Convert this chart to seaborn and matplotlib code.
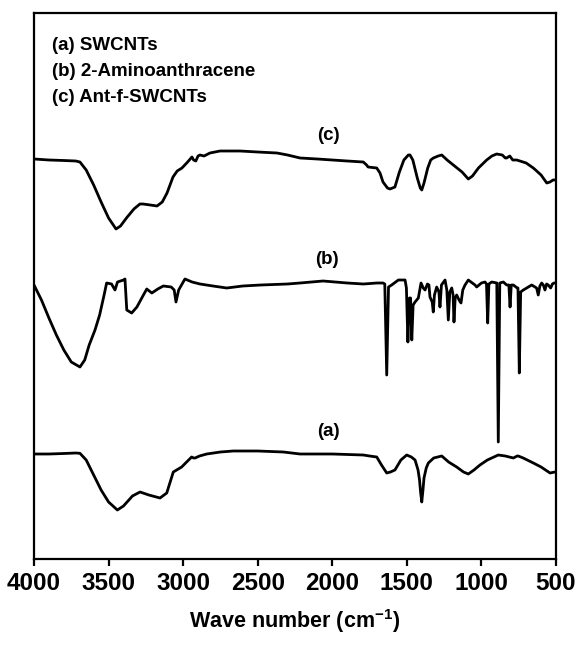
import matplotlib
matplotlib.use("Agg")
import matplotlib.pyplot as plt
import seaborn as sns
import pandas as pd

sns.set_theme(style="white")
plt.rcParams['font.family'] = ['Liberation Sans', 'DejaVu Sans']
plt.rcParams['font.weight'] = 'bold'
plt.rcParams['text.color'] = 'black'
plt.rcParams['xtick.color'] = 'black'
plt.rcParams['axes.labelcolor'] = 'black'
plt.rcParams['mathtext.fontset'] = 'custom'
plt.rcParams['mathtext.bf'] = 'Liberation Sans:bold'
plt.rcParams['mathtext.rm'] = 'Liberation Sans:bold'

# ---- data: wavenumber (cm-1) and offset transmittance (a.u.) ----
wn_c = [4000, 3900, 3800, 3720, 3692, 3650, 3600, 3550, 3500, 3450, 3420, 3380, 3330, 3290, 3269,
        3220, 3175, 3140, 3108, 3068, 3040, 3008, 2970, 2941, 2930, 2915, 2900, 2887, 2860, 2820,
        2753, 2619, 2500, 2371, 2300, 2216, 2100, 2000, 1900, 1792, 1770, 1760, 1702, 1680, 1660,
        1630, 1613, 1580, 1550, 1520, 1490, 1479, 1460, 1430, 1410, 1400, 1385, 1360, 1340, 1322,
        1290, 1266, 1230, 1180, 1130, 1088, 1060, 1020, 965, 930, 898, 860, 840, 831, 810, 790,
        763, 700, 652, 600, 562, 540, 520, 507]
t_c = [401, 400, 399.5, 399, 398, 390, 375, 358, 342, 331, 334, 342, 351, 356, 356,
       355, 354, 358, 367, 383, 389, 392, 398, 403, 400, 399, 404, 405, 404, 407,
       409, 409, 408, 407, 405, 402, 401, 400, 399, 398, 395, 393, 392, 387, 378,
       372, 371, 373, 388, 400, 405, 405, 400, 382, 372, 370, 377, 392, 400, 402,
       404, 405, 400, 394, 388, 381, 384, 392, 400, 404, 406, 405, 402, 402, 404, 400,
       400, 397, 392, 385, 377, 378, 380, 380]

wn_b = [4000, 3950, 3900, 3850, 3800, 3750, 3692, 3660, 3630, 3591, 3560, 3530, 3513, 3480, 3457,
        3440, 3400, 3390, 3378, 3345, 3310, 3270, 3244, 3210, 3170, 3133, 3080, 3060, 3048, 3030,
        2988, 2940, 2887, 2800, 2708, 2600, 2480, 2300, 2216, 2062, 1900, 1792, 1700, 1660, 1648,
        1635, 1623, 1602, 1557, 1512, 1503, 1493, 1483, 1475, 1467, 1458, 1445, 1423, 1405, 1390,
        1378, 1362, 1352, 1345, 1330, 1323, 1315, 1300, 1285, 1278, 1268, 1244, 1232, 1222, 1212,
        1199, 1190, 1184, 1176, 1166, 1150, 1137, 1125, 1110, 1088, 1043, 1032, 1000, 976, 966,
        958, 950, 931, 897, 887, 877, 853, 831, 816, 808, 800, 786, 760, 755, 746,
        737, 719, 663, 630, 619, 608, 596, 585, 574, 563, 552, 536, 524, 513, 500]
t_b = [275, 260, 242, 225, 210, 198, 193, 200, 215, 230, 245, 265, 277, 276, 270,
       278, 280, 281, 250, 247, 253, 264, 271, 267, 271, 274, 273, 270, 258, 270,
       281, 278, 276, 274, 272, 274, 275, 276, 277, 279, 277, 276, 277, 277, 276,
       185, 273, 275, 280, 280, 272, 218, 262, 262, 220, 255, 258, 262, 277, 272,
       270, 276, 275, 263, 258, 248, 265, 273, 268, 253, 275, 280, 270, 240, 268,
       272, 265, 238, 262, 265, 260, 257, 270, 275, 280, 275, 273, 277, 278, 276,
       237, 276, 278, 277, 118, 277, 278, 275, 275, 253, 275, 275, 272, 272, 187,
       268, 270, 275, 272, 265, 274, 277, 275, 270, 276, 275, 272, 276, 277, 277]

wn_a = [4000, 3900, 3800, 3720, 3692, 3650, 3600, 3550, 3500, 3441, 3400, 3340, 3289, 3230, 3155,
        3110, 3066, 3010, 2970, 2943, 2930, 2920, 2890, 2842, 2750, 2664, 2500, 2328, 2216, 2000,
        1792, 1750, 1702, 1670, 1635, 1610, 1580, 1540, 1501, 1470, 1445, 1425, 1415, 1408, 1400,
        1392, 1385, 1370, 1356, 1320, 1266, 1220, 1166, 1120, 1088, 1050, 1010, 960, 887, 840,
        786, 760, 753, 720, 652, 600, 540, 507]
t_a = [106, 106, 106.5, 107, 106.7, 100, 85, 70, 58, 50, 54, 64, 68, 65, 62,
       67, 88, 93, 99, 103, 102, 102, 104, 106, 108, 109, 109, 108, 106, 106,
       105, 104, 103, 95, 87, 88, 90, 100, 105, 103, 100, 90, 80, 68, 58,
       70, 82, 92, 97, 102, 104, 98, 93, 88, 86, 90, 95, 100, 105, 104,
       102, 104, 104, 102, 97, 93, 87, 88]

legend_lines = ["(a) SWCNTs", "(b) 2-Aminoanthracene", "(c) Ant-f-SWCNTs"]
trace_labels = ["(a)", "(b)", "(c)"]
x_ticks = [4000, 3500, 3000, 2500, 2000, 1500, 1000, 500]

# ---- figure ----
fig = plt.figure(figsize=(5.77, 6.48), dpi=100)
ax = fig.add_axes([34/577, 1 - 559/648, 522/577, 546/648])

for wn, t in [(wn_a, t_a), (wn_b, t_b), (wn_c, t_c)]:
    df = pd.DataFrame({"wn": wn, "t": t})
    sns.lineplot(data=df, x="wn", y="t", ax=ax, color="black", linewidth=2.0,
                 estimator=None, sort=True)

ax.set_xlim(4000, 500)
ax.set_ylim(1, 547)
ax.set_xticks(x_ticks)
ax.set_xticklabels([str(v) for v in x_ticks], fontsize=17.5, fontweight="bold")
ax.set_yticks([])
ax.set_ylabel("")
ax.set_xlabel("Wave number (cm$^{\\mathbf{-1}}$)", fontsize=15.5, fontweight="bold", labelpad=9)
ax.tick_params(axis="x", direction="out", length=5, width=1.6, color="black", pad=4,
               bottom=True)
for s in ax.spines.values():
    s.set_visible(True)
    s.set_color("black")
    s.set_linewidth(1.6)

# trace labels
lab_pos = [(2025, 129), (2035, 301), (2029, 424)]
for lab, (x, y) in zip(trace_labels, lab_pos):
    ax.text(x, y, lab, ha="center", va="center", fontsize=13.5, fontweight="bold")

# legend text block
leg_y = [0.940, 0.893, 0.846]
for txt, y in zip(legend_lines, leg_y):
    ax.text(0.034, y, txt, transform=ax.transAxes, ha="left", va="center",
            fontsize=13.5, fontweight="bold")

fig.savefig("out.png", dpi=100)
